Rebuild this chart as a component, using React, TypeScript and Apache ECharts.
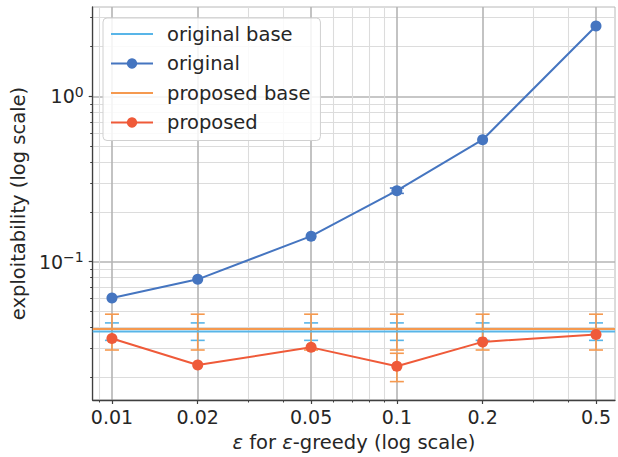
import React, { useEffect, useRef } from "react";
import * as echarts from "echarts";

// ---- data ----
const epsValues = [0.01, 0.02, 0.05, 0.1, 0.2, 0.5];
const xTickLabels = ["0.01", "0.02", "0.05", "0.1", "0.2", "0.5"];
const xMinorTicks = [0.009, 0.03, 0.04, 0.06, 0.07, 0.08, 0.09, 0.3, 0.4];

const yMajorTicks = [0.1, 1];
const yTickExponents = ["−1", "0"];
const yMinorTicks = [0.02, 0.03, 0.04, 0.05, 0.06, 0.07, 0.08, 0.09, 0.2, 0.3, 0.4, 0.5, 0.6, 0.7, 0.8, 0.9, 2, 3];

const originalValues = [0.0603, 0.0782, 0.1427, 0.269, 0.547, 2.67];
const originalLow = [0.0603, 0.0782, 0.1427, 0.259, 0.547, 2.67];
const originalHigh = [0.0603, 0.0782, 0.1427, 0.279, 0.547, 2.67];

const proposedValues = [0.0343, 0.0237, 0.0303, 0.0233, 0.0327, 0.0363];
const proposedLow = [0.0343, 0.0237, 0.0303, 0.0188, 0.0327, 0.0363];
const proposedHigh = [0.0343, 0.0237, 0.0303, 0.0279, 0.0327, 0.0363];

const originalBase = 0.0378;
const originalBaseLow = 0.0334;
const originalBaseHigh = 0.0426;

const proposedBase = 0.0392;
const proposedBaseLow = 0.0292;
const proposedBaseHigh = 0.0481;

const legendNames = ["original base", "original", "proposed base", "proposed"];

// ---- style ----
const FONT = "DejaVu Sans";
const TEXT = "#262626";
const SPINE = "#3f3f3f";
const C_ORIG_BASE = "#58b5e8";
const C_ORIG = "#4575c0";
const C_PROP_BASE = "#f5994f";
const C_PROP = "#ef5a39";

const X_MIN = 0.00856;
const X_MAX = 0.583;
const Y_MIN = 0.01455;
const Y_MAX = 3.477;

function errRender(color: string, capHalf: number) {
  return (params: any, api: any) => {
    const x = api.value(0);
    const lo = api.value(1);
    const hi = api.value(2);
    if (!(hi > lo)) return null;
    const pLo = api.coord([x, lo]);
    const pHi = api.coord([x, hi]);
    const style = { stroke: color, lineWidth: 1.6 };
    return {
      type: "group",
      children: [
        { type: "line", shape: { x1: pLo[0], y1: pLo[1], x2: pHi[0], y2: pHi[1] }, style },
        { type: "line", shape: { x1: pLo[0] - capHalf, y1: pLo[1], x2: pLo[0] + capHalf, y2: pLo[1] }, style },
        { type: "line", shape: { x1: pHi[0] - capHalf, y1: pHi[1], x2: pHi[0] + capHalf, y2: pHi[1] }, style },
      ],
    };
  };
}

function nearestIndex(arr: number[], v: number) {
  let best = 0;
  let bd = Infinity;
  arr.forEach((a, i) => {
    const d = Math.abs(Math.log(a) - Math.log(v));
    if (d < bd) {
      bd = d;
      best = i;
    }
  });
  return best;
}

export default function App() {
  const ref = useRef<HTMLDivElement>(null);

  useEffect(() => {
    document.body.style.margin = "0";
    if (!ref.current) return;
    const chart = echarts.init(ref.current, undefined, { renderer: "svg" });

    const commonX = {
      type: "log",
      logBase: 10,
      min: X_MIN,
      max: X_MAX,
      position: "bottom",
      gridIndex: 0,
    };
    const commonY = {
      type: "log",
      logBase: 10,
      min: Y_MIN,
      max: Y_MAX,
      position: "left",
      gridIndex: 0,
    };

    const hiddenSymbol = { opacity: 0 };

    const option: any = {
      animation: false,
      backgroundColor: "#ffffff",
      textStyle: { fontFamily: FONT },
      grid: {
        left: 92.5,
        top: 7,
        right: 3,
        bottom: 56,
        show: true,
        borderColor: "#b8b8b8",
        borderWidth: 1,
        backgroundColor: "transparent",
      },
      legend: {
        data: [
          { name: legendNames[0], itemStyle: hiddenSymbol },
          { name: legendNames[1] },
          { name: legendNames[2], itemStyle: hiddenSymbol },
          { name: legendNames[3] },
        ],
        orient: "vertical",
        left: 103,
        top: 18,
        itemWidth: 42,
        itemHeight: 13,
        itemGap: 9.5,
        padding: [6, 10, 8, 7],
        backgroundColor: "rgba(255,255,255,0.85)",
        borderColor: "#d0d0d0",
        borderWidth: 1,
        borderRadius: 4,
        textStyle: { fontSize: 19.5, color: TEXT, fontFamily: FONT, padding: [0, 0, 0, 9] },
      },
      xAxis: [
        {
          ...commonX,
          name: "{i|ε} for {i|ε}-greedy (log scale)",
          nameLocation: "middle",
          nameGap: 32,
          nameTextStyle: {
            fontSize: 19.5,
            color: TEXT,
            fontFamily: FONT,
            rich: { i: { fontSize: 19.5, fontStyle: "italic", color: TEXT, fontFamily: FONT } },
          },
          axisLine: { show: true, onZero: false, lineStyle: { color: SPINE, width: 1.3 } },
          axisTick: { show: true, customValues: epsValues, length: 4, lineStyle: { color: SPINE, width: 1.2 } },
          axisLabel: {
            show: true,
            customValues: epsValues,
            margin: 7,
            fontSize: 19,
            color: TEXT,
            fontFamily: FONT,
            formatter: (v: number) => xTickLabels[nearestIndex(epsValues, v)],
          },
          splitLine: { show: true, lineStyle: { color: "#b4b4b4", width: 1.6 } },
          minorTick: { show: false },
          minorSplitLine: { show: false },
        },
        {
          ...commonX,
          axisLine: { show: false, onZero: false },
          axisTick: { show: true, customValues: xMinorTicks, length: 2.5, lineStyle: { color: SPINE, width: 1 } },
          axisLabel: { show: false },
          splitLine: { show: true, lineStyle: { color: "#dcdcdc", width: 1.1 } },
          minorTick: { show: false },
          minorSplitLine: { show: false },
        },
      ],
      yAxis: [
        {
          ...commonY,
          name: "exploitability (log scale)",
          nameLocation: "middle",
          nameGap: 60,
          nameTextStyle: { fontSize: 19.5, color: TEXT, fontFamily: FONT },
          axisLine: { show: true, onZero: false, lineStyle: { color: SPINE, width: 1.3 } },
          axisTick: { show: true, customValues: yMajorTicks, length: 4, lineStyle: { color: SPINE, width: 1.2 } },
          axisLabel: {
            show: true,
            customValues: yMajorTicks,
            margin: 9,
            color: TEXT,
            fontFamily: FONT,
            formatter: (v: number) => `{b|10}{s|${yTickExponents[nearestIndex(yMajorTicks, v)]}}`,
            rich: {
              b: { fontSize: 19, color: TEXT, fontFamily: FONT },
              s: { fontSize: 14, color: TEXT, fontFamily: FONT, verticalAlign: "bottom", padding: [0, 0, 9, 0] },
            },
          },
          splitLine: { show: true, lineStyle: { color: "#b4b4b4", width: 1.6 } },
          minorTick: { show: false },
          minorSplitLine: { show: false },
        },
        {
          ...commonY,
          axisLine: { show: false, onZero: false },
          axisTick: { show: true, customValues: yMinorTicks, length: 2.5, lineStyle: { color: SPINE, width: 1 } },
          axisLabel: { show: false },
          splitLine: { show: true, lineStyle: { color: "#dcdcdc", width: 1.1 } },
          minorTick: { show: false },
          minorSplitLine: { show: false },
        },
      ],
      series: [
        {
          name: "original base",
          type: "line",
          xAxisIndex: 0,
          yAxisIndex: 0,
          data: [
            [X_MIN, originalBase],
            [X_MAX, originalBase],
          ],
          symbol: "none",
          itemStyle: { color: C_ORIG_BASE },
          lineStyle: { color: C_ORIG_BASE, width: 2 },
        },
        {
          name: "original base err",
          type: "custom",
          xAxisIndex: 0,
          yAxisIndex: 0,
          dimensions: ["x", "lo", "hi"],
          encode: { x: 0, y: [1, 2] },
          data: epsValues.map((e) => [e, originalBaseLow, originalBaseHigh]),
          renderItem: errRender(C_ORIG_BASE, 7),
        },
        {
          name: "original err",
          type: "custom",
          xAxisIndex: 0,
          yAxisIndex: 0,
          dimensions: ["x", "lo", "hi"],
          encode: { x: 0, y: [1, 2] },
          data: epsValues.map((e, i) => [e, originalLow[i], originalHigh[i]]),
          renderItem: errRender(C_ORIG, 7),
        },
        {
          name: "original",
          type: "line",
          xAxisIndex: 0,
          yAxisIndex: 0,
          data: epsValues.map((e, i) => [e, originalValues[i]]),
          symbol: "circle",
          symbolSize: 11,
          itemStyle: { color: C_ORIG },
          lineStyle: { color: C_ORIG, width: 2 },
        },
        {
          name: "proposed base",
          type: "line",
          xAxisIndex: 0,
          yAxisIndex: 0,
          data: [
            [X_MIN, proposedBase],
            [X_MAX, proposedBase],
          ],
          symbol: "none",
          itemStyle: { color: C_PROP_BASE },
          lineStyle: { color: C_PROP_BASE, width: 2 },
        },
        {
          name: "proposed base err",
          type: "custom",
          xAxisIndex: 0,
          yAxisIndex: 0,
          dimensions: ["x", "lo", "hi"],
          encode: { x: 0, y: [1, 2] },
          data: epsValues.map((e) => [e, proposedBaseLow, proposedBaseHigh]),
          renderItem: errRender(C_PROP_BASE, 7),
        },
        {
          name: "proposed err",
          type: "custom",
          xAxisIndex: 0,
          yAxisIndex: 0,
          dimensions: ["x", "lo", "hi"],
          encode: { x: 0, y: [1, 2] },
          data: epsValues.map((e, i) => [e, proposedLow[i], proposedHigh[i]]),
          renderItem: errRender(C_PROP_BASE, 7),
        },
        {
          name: "proposed",
          type: "line",
          xAxisIndex: 0,
          yAxisIndex: 0,
          z: 5,
          data: epsValues.map((e, i) => [e, proposedValues[i]]),
          symbol: "circle",
          symbolSize: 11,
          itemStyle: { color: C_PROP },
          lineStyle: { color: C_PROP, width: 2 },
        },
      ],
    };

    chart.setOption(option);
    return () => chart.dispose();
  }, []);

  return (
    <div
      ref={ref}
      style={{ position: "fixed", left: 0, top: 0, width: 618, height: 457, background: "#fff" }}
    />
  );
}
